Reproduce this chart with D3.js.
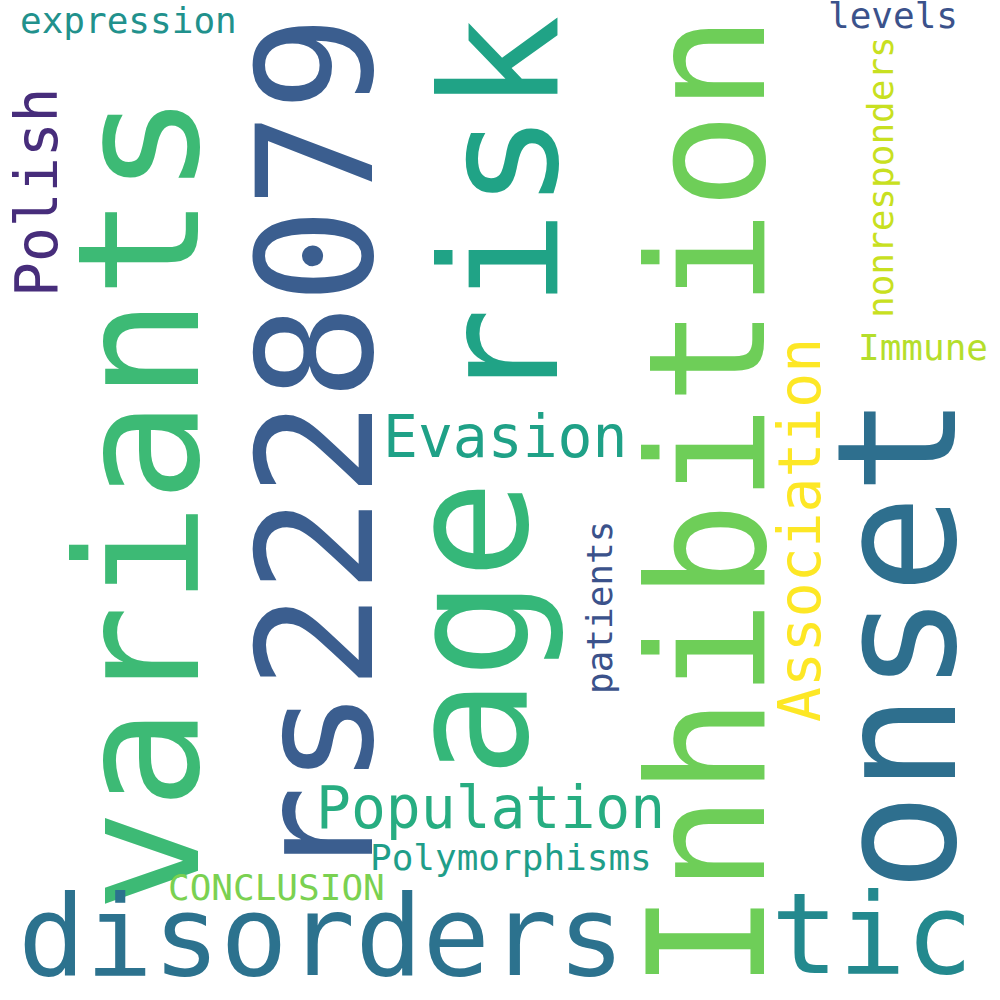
<!DOCTYPE html>
<html><head><meta charset="utf-8">
<script src="https://cdn.jsdelivr.net/npm/d3@7"></script>
<style>body{margin:0;background:#fff}</style></head>
<body><svg id="c" width="1000" height="1000"></svg>
<script>
const words = ["variants","rs2228079","age","risk","Inhibition","onset","disorders","tic","Polish","expression","levels","nonresponders","Immune","Association","Evasion","patients","Population","Polymorphisms","CONCLUSION"];
const weights = [170,160,165,162,162,165,112,112,58,36,36,36,36,58,58,36,58,36,36];
const colors = ["#3dba75","#3b5e8f","#35b779","#20a386","#6ece58","#2e6f8e","#2c728e","#23898e","#472d7b","#21918c","#3b528b","#c8e020","#b5de2b","#fde725","#1fa187","#3b528b","#27ad81","#1f9e89","#7ad151"];
const vertical = [1,1,1,1,1,1,0,0,1,0,0,1,0,1,0,1,0,0,0];
// layout anchors (baseline start)
const layoutX = [198,372,527,557,764,955,18,771,57,20,828,893,858,820,383,612,316,370,168];
const layoutY = [912,882,778,405,990,892,975,973,297,33,28,318,360,722,457,694,828,870,900];

const svg = d3.select("#c");
const size = d3.scaleLinear().domain([0,1]).range([0,1]);
svg.selectAll("text").data(words).join("text")
  .attr("font-family","DejaVu Sans Mono, monospace")
  .attr("font-size",(d,i)=>size(weights[i]))
  .attr("fill",(d,i)=>colors[i])
  .attr("transform",(d,i)=>`translate(${layoutX[i]},${layoutY[i]})${vertical[i]?" rotate(-90)":""}`)
  .text(d=>d);
</script></body></html>
